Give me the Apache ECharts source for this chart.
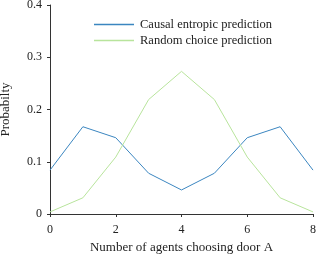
<!DOCTYPE html>
<html><head><meta charset="utf-8">
<script src="https://cdn.jsdelivr.net/npm/echarts@6/dist/echarts.min.js"></script>
<style>html,body{margin:0;padding:0;background:#fff}#c{width:317px;height:254px}</style>
</head><body><div id="c"></div>
<script>
const categories = [0, 1, 2, 3, 4, 5, 6, 7, 8];
const causalEntropic = [0.084, 0.167, 0.146, 0.078, 0.046, 0.078, 0.146, 0.167, 0.084];
const randomChoice = [0.004, 0.031, 0.109, 0.219, 0.273, 0.219, 0.109, 0.031, 0.004];
const seriesNames = ['Causal entropic prediction', 'Random choice prediction'];
const xTitle = 'Number of agents choosing door A';
const yTitle = 'Probabilty';

const font = 'Liberation Serif';
const axisCol = '#333';
const chart = echarts.init(document.getElementById('c'), null, {renderer: 'canvas'});
chart.setOption({
  animation: false,
  textStyle: {fontFamily: font},
  grid: {left: 50, right: 4, top: 5, bottom: 40, containLabel: false, outerBoundsMode: 'none'},
  legend: {
    top: 13, left: 89, orient: 'vertical', itemGap: 3,
    itemWidth: 40, itemHeight: 14, icon: 'rect',
    itemStyle: {borderWidth: 0},
    textStyle: {fontFamily: font, fontSize: 12.5, color: '#222', padding: [0,0,0,1]},
    data: seriesNames.map((n, i) => ({name: n, icon: 'path://M0,0L100,0L100,4L0,4Z'}))
  },
  xAxis: {
    type: 'value', min: 0, max: 8, interval: 2,
    name: xTitle, nameLocation: 'middle', nameGap: 23,
    nameTextStyle: {fontFamily: font, fontSize: 13, color: '#222'},
    axisLine: {lineStyle: {color: axisCol, width: 1}},
    axisTick: {lineStyle: {color: axisCol}, length: 3},
    axisLabel: {fontFamily: font, fontSize: 12, color: '#222', margin: 10},
    splitLine: {show: false}
  },
  yAxis: {
    type: 'value', min: 0, max: 0.4, interval: 0.1,
    name: yTitle, nameLocation: 'middle', nameGap: 38,
    nameTextStyle: {fontFamily: font, fontSize: 13, color: '#222'},
    axisLine: {show: true, lineStyle: {color: axisCol, width: 1}},
    axisTick: {show: true, lineStyle: {color: axisCol}, length: 3},
    axisLabel: {fontFamily: font, fontSize: 12, color: '#222', margin: 8,
      formatter: v => v === 0 ? '0' : v.toFixed(1)},
    splitLine: {show: false}
  },
  series: [
    {name: seriesNames[0], type: 'line', showSymbol: false, symbol: 'none',
     data: categories.map((c, i) => [c, causalEntropic[i]]),
     lineStyle: {color: '#3b86c0', width: 1}, itemStyle: {color: '#3b86c0'}},
    {name: seriesNames[1], type: 'line', showSymbol: false, symbol: 'none',
     data: categories.map((c, i) => [c, randomChoice[i]]),
     lineStyle: {color: '#b8e49c', width: 1}, itemStyle: {color: '#b8e49c'}}
  ]
});
</script></body></html>
